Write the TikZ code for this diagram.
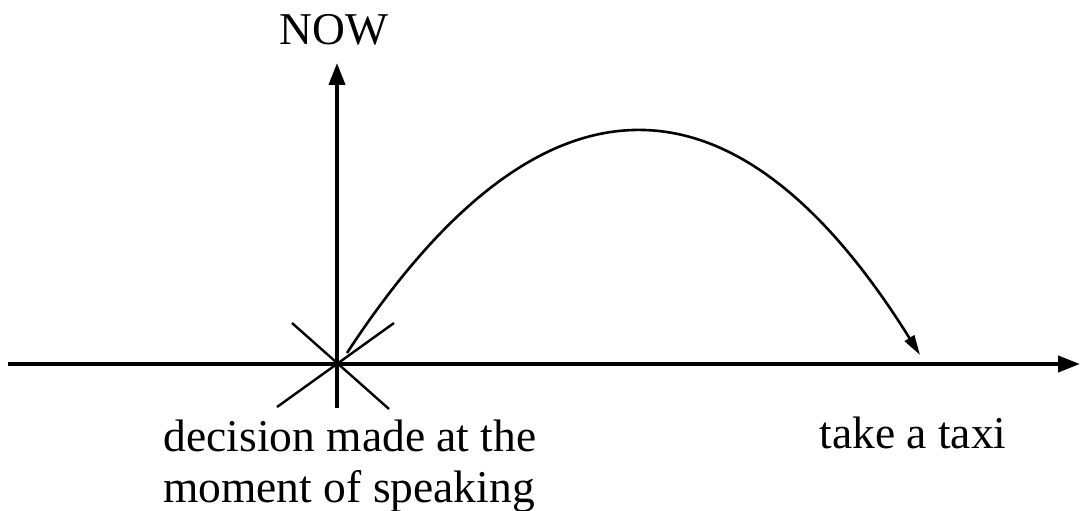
\documentclass[tikz,border=0pt]{standalone}
\usepackage{fontspec}
\setmainfont{Liberation Serif}
\usetikzlibrary{arrows.meta}
\begin{document}
\begin{tikzpicture}[x=1pt,y=-1pt,
  axis/.style={line width=4pt,-{Triangle[length=22pt,width=16pt]}},
  crossline/.style={line width=2.4pt},
  curvearrow/.style={line width=2.6pt,-{Triangle[length=20pt,width=11pt]}},
  lbl/.style={font=\fontsize{45.5}{51}\selectfont,inner sep=0pt,align=center}]
\useasboundingbox (0,0) rectangle (1080,511);
\coordinate (xs) at (8,364);
\coordinate (xe) at (1080,364);
\coordinate (ys) at (337,408);
\coordinate (ye) at (337,63);
\coordinate (cs) at (347,353);
\coordinate (ce) at (920,355);
\coordinate (a1) at (292,323);
\coordinate (a2) at (389,409);
\coordinate (b1) at (277,407);
\coordinate (b2) at (394,323);
\draw[axis] (xs) -- (xe);
\draw[axis] (ys) -- (ye);
\draw[crossline] (a1) -- (a2);
\draw[crossline] (b1) -- (b2);
\draw[curvearrow] (cs) .. controls (540,58) and (735,58) .. (ce);
\node[lbl,anchor=base] (now) at (334,45) {NOW};
\node[lbl,anchor=base] (dec) at (350,451) {decision made at the};
\node[lbl,anchor=base] (mom) at (349,502) {moment of speaking};
\node[lbl,anchor=base] (taxi) at (913,448) {take a taxi};
\end{tikzpicture}
\end{document}
